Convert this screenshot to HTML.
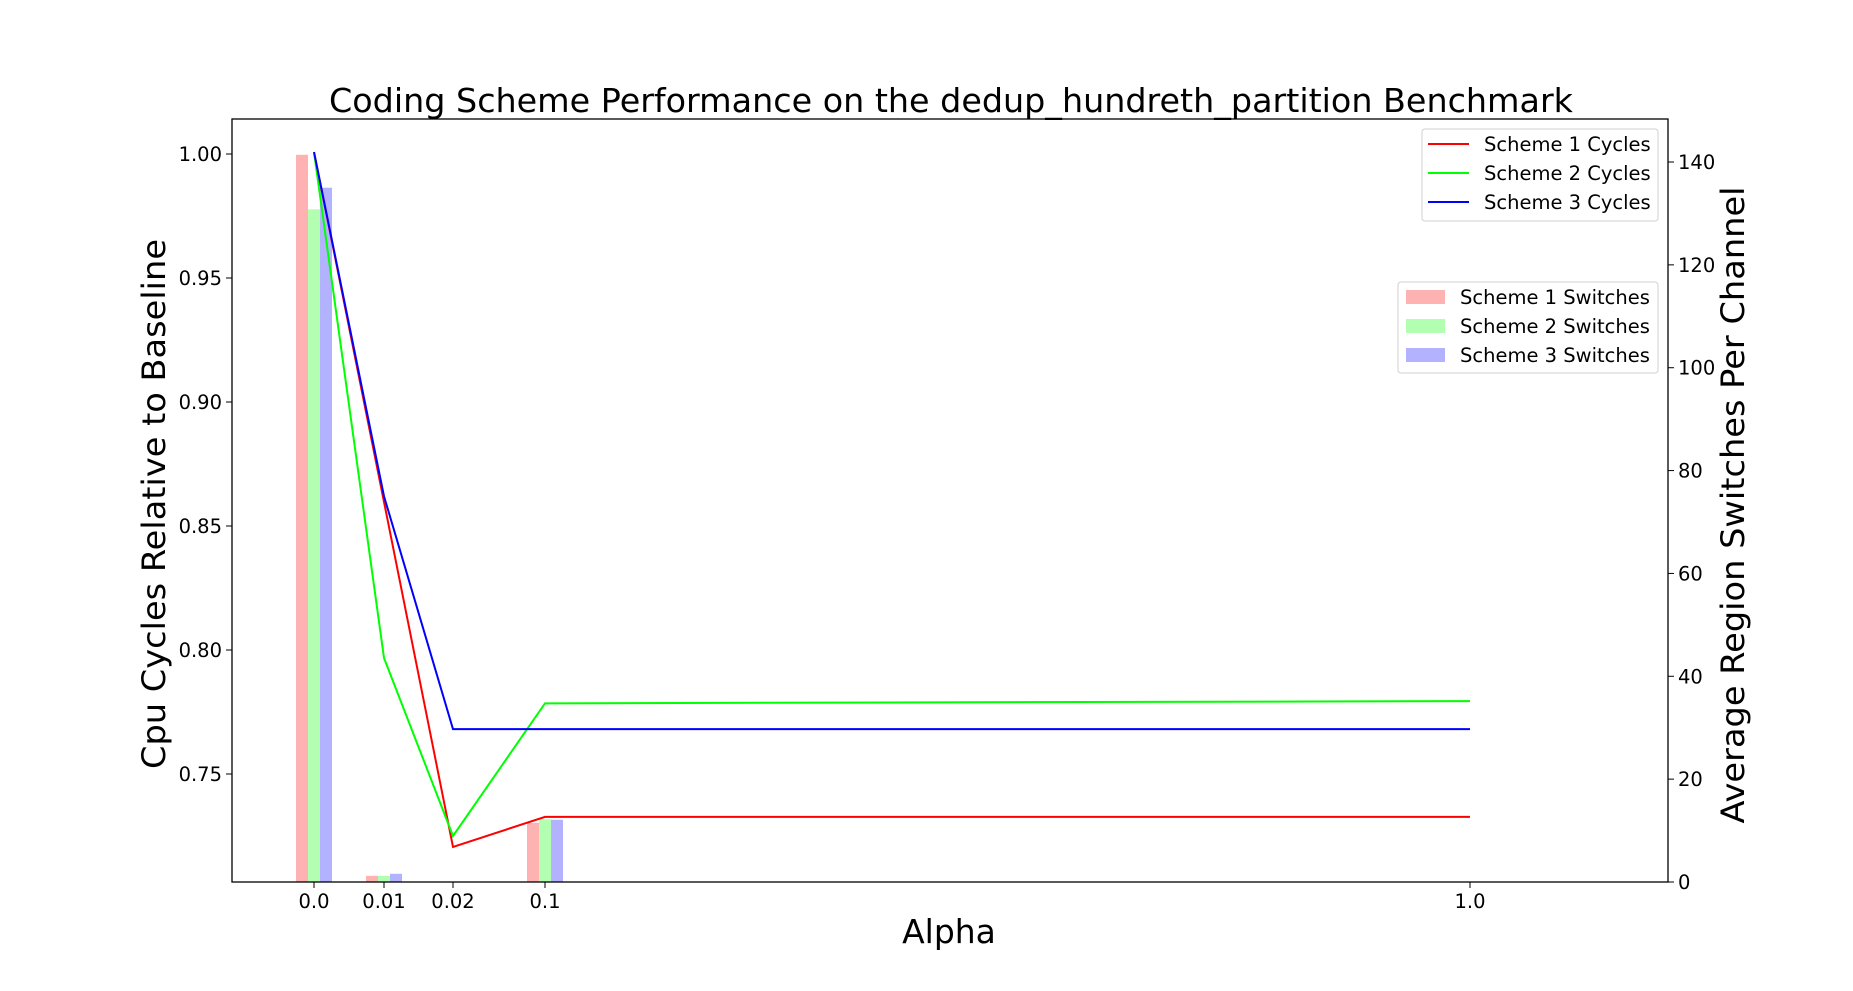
<!DOCTYPE html>
<html><head><meta charset="utf-8"><style>
html,body{margin:0;padding:0;background:#fff;}
svg{display:block;font-family:"DejaVu Sans","Liberation Sans",sans-serif;}
</style></head><body>
<svg id="chart" width="1853" height="991" viewBox="0 0 1853 991">
<g id="bars"></g>
<g id="lines"></g>
<g id="axes"></g>
<text x="951" y="112" font-size="33" text-anchor="middle" textLength="1244" lengthAdjust="spacingAndGlyphs">Coding Scheme Performance on the dedup_hundreth_partition Benchmark</text>
<text x="949" y="943" font-size="33" text-anchor="middle">Alpha</text>
<text transform="translate(165,504) rotate(-90)" font-size="32" text-anchor="middle" textLength="530" lengthAdjust="spacingAndGlyphs">Cpu Cycles Relative to Baseline</text>
<text transform="translate(1744,505) rotate(-90)" font-size="32" text-anchor="middle" textLength="637" lengthAdjust="spacingAndGlyphs">Average Region Switches Per Channel</text>
<g>
<rect x="1422" y="129" width="236" height="92" rx="3" fill="#fff" fill-opacity="0.8" stroke="#d0d0d0"/>
<line x1="1428" y1="144" x2="1469" y2="144" stroke="#ff0000" stroke-width="2"/>
<text x="1484" y="151" font-size="19.5">Scheme 1 Cycles</text>
<line x1="1428" y1="173" x2="1469" y2="173" stroke="#00ff00" stroke-width="2"/>
<text x="1484" y="180" font-size="19.5">Scheme 2 Cycles</text>
<line x1="1428" y1="202" x2="1469" y2="202" stroke="#0000ff" stroke-width="2"/>
<text x="1484" y="209" font-size="19.5">Scheme 3 Cycles</text>
</g>
<g>
<rect x="1398" y="282" width="260" height="91" rx="3" fill="#fff" fill-opacity="0.8" stroke="#d0d0d0"/>
<rect x="1406" y="290" width="39" height="14" fill="#ffb2b2"/>
<text x="1460" y="304" font-size="19.5">Scheme 1 Switches</text>
<rect x="1406" y="319" width="39" height="14" fill="#b2ffb2"/>
<text x="1460" y="333" font-size="19.5">Scheme 2 Switches</text>
<rect x="1406" y="348" width="39" height="14" fill="#b2b2ff"/>
<text x="1460" y="362" font-size="19.5">Scheme 3 Switches</text>
</g>
</svg>
<script>
const categories = ["0.0","0.01","0.02","0.1","1.0"];
const cycles1 = [1.0008, 0.8597, 0.7206, 0.7327, 0.7327];
const cycles2 = [1.0008, 0.7968, 0.7250, 0.7785, 0.7794];
const cycles3 = [1.0008, 0.8620, 0.7681, 0.7681, 0.7681];
const switches1 = [141.4, 1.2, 11.5];
const switches2 = [130.8, 1.2, 12.2];
const switches3 = [135.0, 1.6, 12.1];
const barCategories = ["0.0","0.01","0.1"];
const leftTicks = ["0.75","0.80","0.85","0.90","0.95","1.00"];
const rightTicks = ["0","20","40","60","80","100","120","140"];

const NS = "http://www.w3.org/2000/svg";
const L = 232, R = 1668, T = 119, B = 882;
const catPos = {"0.0":314,"0.01":384,"0.02":453,"0.1":545,"1.0":1470};
function xs(c){ return catPos[c]; }
function yl(v){ return 154 + (1 - v) * 2480; }
function yr(v){ return B - v * (720 / 140); }
function mk(tag, attrs, parent){
  const e = document.createElementNS(NS, tag);
  for (const k in attrs) e.setAttribute(k, attrs[k]);
  parent.appendChild(e);
  return e;
}
const bars = document.getElementById('bars');
const lines = document.getElementById('lines');
const axes = document.getElementById('axes');

const barSeries = [[switches1,"#ffb2b2",-12,"s1"],[switches2,"#b2ffb2",0,"s2"],[switches3,"#b2b2ff",12,"s3"]];
barSeries.forEach(([vals,col,off,nm])=>{
  vals.forEach((v,i)=>{
    const cx = xs(barCategories[i]) + off;
    const r = mk('rect',{x:cx-6,y:yr(v),width:12,height:B-yr(v),fill:col},bars);
    
    
  });
});

const lineSeries = [[cycles1,"#ff0000","s1"],[cycles2,"#00ff00","s2"],[cycles3,"#0000ff","s3"]];
lineSeries.forEach(([vals,col,nm])=>{
  const pts = vals.map((v,i)=>xs(categories[i])+','+yl(v)).join(' ');
  const p = mk('polyline',{points:pts,fill:'none',stroke:col,'stroke-width':2},lines);
  
  
});

const frame = mk('rect',{x:L,y:T,width:R-L,height:B-T,fill:'none',stroke:'#000','stroke-width':1.3},axes);



categories.forEach(c=>{
  const x = xs(c);
  mk('line',{x1:x,y1:B,x2:x,y2:B+6,stroke:'#000','stroke-width':1},axes);
  const t = mk('text',{x:x,y:908,'font-size':19.5,'text-anchor':'middle'},axes);
  t.textContent = c;
  
  
});
leftTicks.forEach(s=>{
  const y = yl(parseFloat(s));
  mk('line',{x1:L-6,y1:y,x2:L,y2:y,stroke:'#000','stroke-width':1},axes);
  const t = mk('text',{x:L-10,y:y+7,'font-size':19.5,'text-anchor':'end'},axes);
  t.textContent = s;
  
  
});
rightTicks.forEach(s=>{
  const y = yr(parseFloat(s));
  mk('line',{x1:R,y1:y,x2:R+6,y2:y,stroke:'#000','stroke-width':1},axes);
  const t = mk('text',{x:R+10,y:y+7,'font-size':19.5,'text-anchor':'start'},axes);
  t.textContent = s;
  
  
});
</script>
</body></html>
